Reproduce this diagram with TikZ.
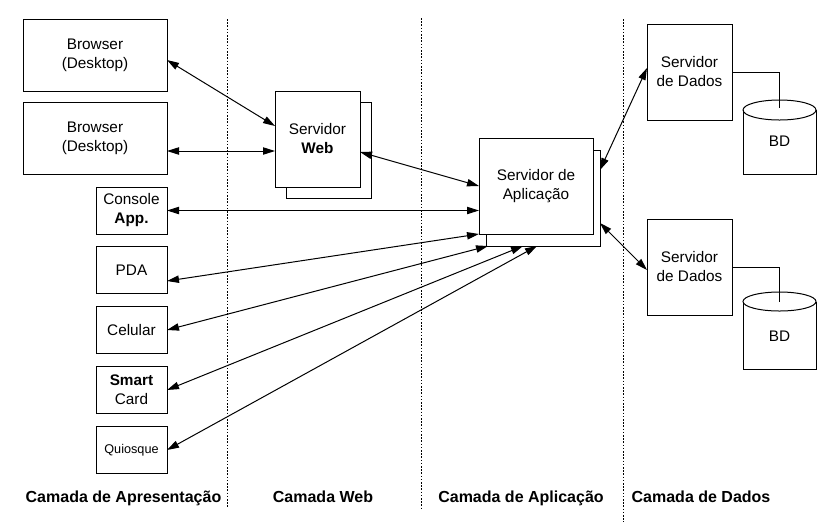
\documentclass[tikz,border=0pt]{standalone}
\usepackage{fontspec}
\setmainfont{Liberation Sans}
\usetikzlibrary{calc, arrows.meta}

\tikzset{
	caixa/.style = {draw, fill = white, align = center, inner sep = 0pt, outer sep = 0pt,
		font = \fontsize{11.5}{14.25}\selectfont},
	divisa/.style = {dash pattern = on 1.2pt off 1.2pt, line width = 0.6pt},
	seta/.style = {{Triangle[length = 9pt, width = 5.5pt]}-{Triangle[length = 9pt, width = 5.5pt]}},
	camada/.style = {anchor = base, font = \bfseries\fontsize{12}{14}\selectfont},
}

\begin{document}
\begin{tikzpicture}[x = 0.75pt, y = -0.75pt, line width = 0.75pt]
			\def\px{0.75pt};
			\useasboundingbox (0,0) rectangle (834,526);

			% divisas entre camadas
			\draw[divisa]
				(227,19) -- (227,508)
				(421,18) -- (421,508)
				(623,19) -- (623,522);

			% camada de apresentacao
			\begin{scope}[minimum height = 72*\px]
				\node[caixa, minimum width = 144*\px] (b1) at (95,55) {Browser\\(Desktop)};
				\node[caixa, minimum width = 144*\px] (b2) at (95,138) {Browser\\(Desktop)};
			\end{scope}
			\begin{scope}[minimum width = 71*\px, minimum height = 47*\px]
				\node[caixa] (con) at (131.5,210.5) {Console\\\textbf{App.}};
				\node[caixa] (pda) at (131.5,270) {PDA};
				\node[caixa] (cel) at (131.5,330) {Celular};
				\node[caixa] (smart) at (131.5,390) {\textbf{Smart}\\Card};
				\node[caixa] (qui) at (131.5,450) {\fontsize{9.5}{11}\selectfont Quiosque};
			\end{scope}

			% servidores
			\begin{scope}[minimum width = 85*\px, minimum height = 96*\px]
				\node[caixa] (webbk) at (329,150) {};
				\node[caixa] (web) at (317.5,139) {Servidor\\\textbf{Web}};
				\node[caixa] (ds1) at (689.5,72) {Servidor\\de Dados};
				\node[caixa] (ds2) at (689.5,267) {Servidor\\de Dados};
			\end{scope}
			\begin{scope}[minimum width = 114*\px, minimum height = 96*\px]
				\node[caixa] (appbk) at (543,198) {};
				\node[caixa] (app) at (536,186) {Servidor de\\Aplica\c{c}\~ao};
			\end{scope}

			% bancos de dados
			\draw (743,110) -- (743,174) -- (816,174) -- (816,110);
			\draw (779.5,110) ellipse [x radius = 36.5, y radius = 10];
			\node[font = \fontsize{11.5}{14}\selectfont] (bd1) at (779.5,141) {BD};
			\coordinate (bd1topo) at (779,108);

			\draw (743,301.5) -- (743,369) -- (816,369) -- (816,301.5);
			\draw (779.5,301.5) ellipse [x radius = 36.5, y radius = 9.5];
			\node[font = \fontsize{11.5}{14}\selectfont] (bd2) at (779.5,336) {BD};
			\coordinate (bd2topo) at (779,302);

			\draw (ds1.east) -| (bd1topo);
			\draw (ds2.east) -| (bd2topo);

			% conexoes
			\begin{scope}[seta]
				\draw ($(b1.east)+(0,5)$) -- ($(web.west)+(0,-13)$);
				\draw ($(b2.east)+(0,13)$) -- ($(web.west)+(0,12)$);
				\draw ($(web.east)+(0,13)$) -- (app.west);
				\draw (con.east) -- (app.west |- con.east);
				\draw ($(pda.east)+(0,11)$) -- (app.south west);
				\draw (cel.east) -- ($(appbk.south west)+(2,0)$);
				\draw (smart.east) -- ($(appbk.south west)+(37,0)$);
				\draw (qui.east) -- ($(appbk.south west)+(51,0)$);
				\draw ($(appbk.north east)+(0,20)$) -- ($(ds1.west)+(0,-4)$);
				\draw ($(appbk.north east)+(0,73)$) -- ($(ds2.west)+(0,3)$);
			\end{scope}

			% nomes das camadas
			\node[camada] (cap) at (123.5,502) {Camada de Apresenta\c{c}\~ao};
			\node[camada] (cweb) at (323,502) {Camada Web};
			\node[camada] (capl) at (521,502) {Camada de Aplica\c{c}\~ao};
			\node[camada] (cdad) at (701,502) {Camada de Dados};
		\end{tikzpicture}
\end{document}
